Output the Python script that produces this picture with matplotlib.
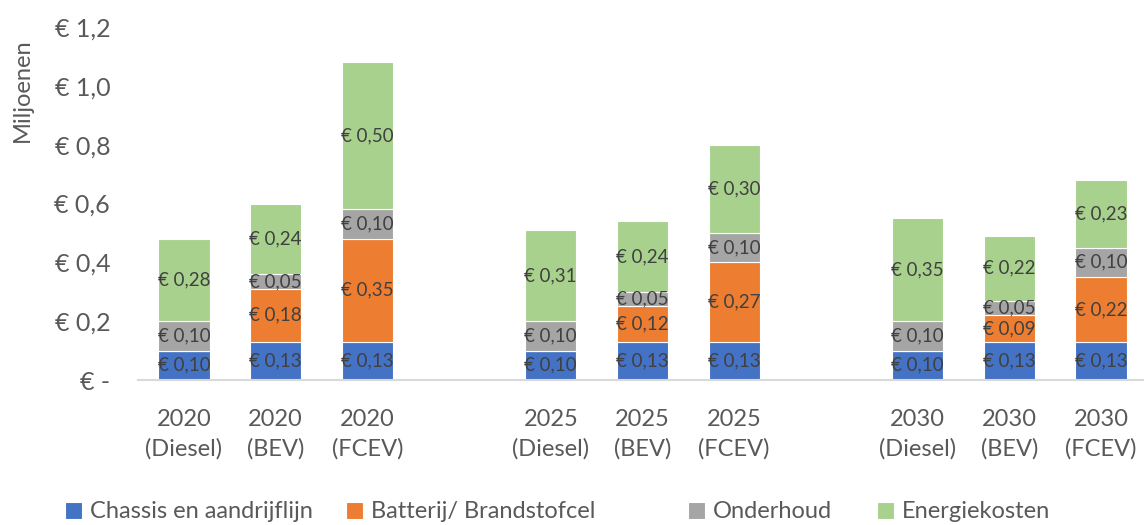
import matplotlib
matplotlib.use("Agg")
import matplotlib.pyplot as plt
import numpy as np

categories = ["2020\n(Diesel)", "2020\n(BEV)", "2020\n(FCEV)", "",
              "2025\n(Diesel)", "2025\n(BEV)", "2025\n(FCEV)", "",
              "2030\n(Diesel)", "2030\n(BEV)", "2030\n(FCEV)"]
chassis = [0.10, 0.13, 0.13, 0, 0.10, 0.13, 0.13, 0, 0.10, 0.13, 0.13]
batterij = [0, 0.18, 0.35, 0, 0, 0.12, 0.27, 0, 0, 0.09, 0.22]
onderhoud = [0.10, 0.05, 0.10, 0, 0.10, 0.05, 0.10, 0, 0.10, 0.05, 0.10]
energie = [0.28, 0.24, 0.50, 0, 0.31, 0.24, 0.30, 0, 0.35, 0.22, 0.23]
series_names = ["Chassis en aandrijflijn", "Batterij/ Brandstofcel", "Onderhoud", "Energiekosten"]
series_colors = ["#4472C4", "#ED7D31", "#A5A5A5", "#A9D18E"]
yticks = [0, 0.2, 0.4, 0.6, 0.8, 1.0, 1.2]
ytick_labels = ["€ -", "€ 0,2", "€ 0,4", "€ 0,6", "€ 0,8", "€ 1,0", "€ 1,2"]

plt.rcParams['font.family'] = ['Lato', 'DejaVu Sans']
txt = "#595959"

fig = plt.figure(figsize=(11.44, 5.25), dpi=100)
ax = fig.add_axes([138/1144, 1 - 380/525, (1147-138)/1144, (380-27)/525])

x = np.arange(len(categories))
bottom = np.zeros(len(categories))
handles = []
for name, vals, col in zip(series_names, [chassis, batterij, onderhoud, energie], series_colors):
    vals = np.array(vals)
    bars = ax.bar(x, vals, width=0.56, bottom=bottom, color=col, edgecolor="white",
                  linewidth=0.8, label=name)
    handles.append(bars)
    labels = [("€ " + f"{v:.2f}".replace(".", ",")) if v > 0 else "" for v in vals]
    ax.bar_label(bars, labels=labels, label_type="center", fontsize=13.5, color="#404040")
    bottom += vals

ax.set_xlim(-0.5, 10.5)
ax.set_ylim(0, 1.2)
ax.set_yticks(yticks)
ax.set_yticklabels(ytick_labels, fontsize=18, color=txt)
ax.set_xticks(x)
ax.set_xticklabels(categories, fontsize=17, color=txt, linespacing=1.45)
ax.tick_params(axis="both", length=0)
ax.tick_params(axis="x", pad=21)
ax.tick_params(axis="y", pad=20)
for s in ["top", "right", "left"]:
    ax.spines[s].set_visible(False)
ax.spines["bottom"].set_color("#D9D9D9")
ax.spines["bottom"].set_linewidth(1.5)

fig.text(22/1144, 1 - 90/525, "Miljoenen", rotation=90, ha="center", va="center",
         fontsize=17, color=txt)

# legend entries placed individually to match spacing
legend_x = [65, 346, 688, 877]
for h, name, lx in zip(handles, series_names, legend_x):
    fig.legend([h], [name], loc="center left", bbox_to_anchor=(lx/1144, 1 - 512/525),
               frameon=False, fontsize=17, labelcolor=txt, handlelength=0.7,
               handleheight=0.7, handletextpad=0.35, borderpad=0, borderaxespad=0)

fig.savefig("out.png", dpi=100)
